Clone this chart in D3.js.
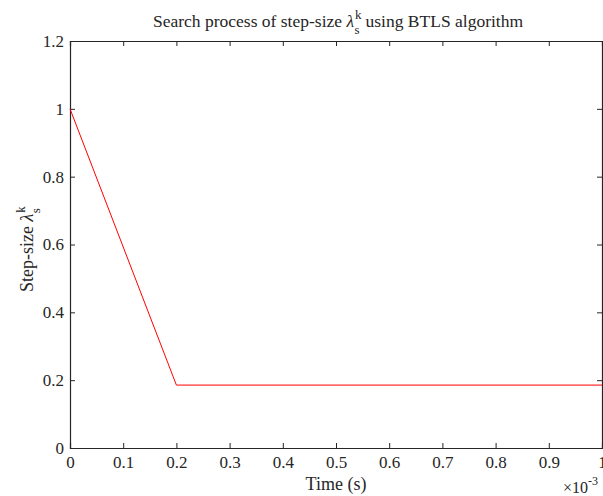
<!DOCTYPE html>
<html><head><meta charset="utf-8">
<script src="https://cdn.jsdelivr.net/npm/d3@7"></script>
<style>body{margin:0;background:#fff;}svg{display:block;}text{font-family:"Liberation Serif","Times New Roman",serif;fill:#262626;}</style>
</head><body>
<script>
const timeVals = [0, 0.2, 1.0];          // ×10^-3 s
const stepVals = [1, 0.1855, 0.1855];
const xTicks = [0,0.1,0.2,0.3,0.4,0.5,0.6,0.7,0.8,0.9,1];
const yTicks = [0,0.2,0.4,0.6,0.8,1,1.2];

const W=603,H=496;
const svg=d3.select("body").append("svg").attr("width",W).attr("height",H);
const L=70,R=602,T=41,B=448;
const x=d3.scaleLinear().domain([0,1]).range([L,R]);
const y=d3.scaleLinear().domain([0,1.2]).range([B,T]);

const fmt=d=>String(d);
const gx=svg.append("g").attr("transform",`translate(0,${B})`)
  .call(d3.axisBottom(x).tickValues(xTicks).tickSize(-5).tickPadding(8).tickFormat(fmt));
const gxt=svg.append("g").attr("transform",`translate(0,${T})`)
  .call(d3.axisTop(x).tickValues(xTicks).tickSize(-5).tickFormat(""));
const gy=svg.append("g").attr("transform",`translate(${L},0)`)
  .call(d3.axisLeft(y).tickValues(yTicks).tickSize(-5).tickPadding(6).tickFormat(fmt));
const gyr=svg.append("g").attr("transform",`translate(${R},0)`)
  .call(d3.axisRight(y).tickValues(yTicks).tickSize(-5).tickFormat(""));
[gx,gxt,gy,gyr].forEach(g=>{
  g.selectAll("path").attr("stroke","#262626").attr("stroke-width",1.2);
  g.selectAll("line").attr("stroke","#262626");
  g.selectAll("text").style("font-size","17px").attr("fill","#262626");
});

// line
svg.append("path").datum(timeVals.map((t,i)=>[t,stepVals[i]]))
  .attr("fill","none").attr("stroke","#ff0000").attr("stroke-width",1)
  .attr("d",d3.line().x(d=>x(d[0])).y(d=>y(d[1])));

// title
const title=svg.append("text").attr("x",153).attr("y",27).style("font-size","17.5px");
title.append("tspan").text("Search process of step-size ");
title.append("tspan").style("font-style","italic").text("λ");
title.append("tspan").attr("dy",-8).attr("dx",1).style("font-size","13px").text("k");
title.append("tspan").attr("dy",15).attr("dx",-7).style("font-size","13px").text("s");
title.append("tspan").attr("dy",-7).attr("dx",6).text("using BTLS algorithm");

// x label
svg.append("text").attr("x",336).attr("y",490).attr("text-anchor","middle").style("font-size","18px").text("Time (s)");
// exponent
const ex=svg.append("text").attr("x",563).attr("y",493).style("font-size","16px");
ex.append("tspan").text("×10");
ex.append("tspan").attr("dy",-8).style("font-size","12px").text("-3");

// y label
const yl=svg.append("text").attr("transform","translate(33,292) rotate(-90)").style("font-size","18px");
yl.append("tspan").text("Step-size ");
yl.append("tspan").style("font-style","italic").text("λ");
yl.append("tspan").attr("dy",-8).attr("dx",1).style("font-size","13px").text("k");
yl.append("tspan").attr("dy",15).attr("dx",-7).style("font-size","13px").text("s");
</script>
</body></html>
